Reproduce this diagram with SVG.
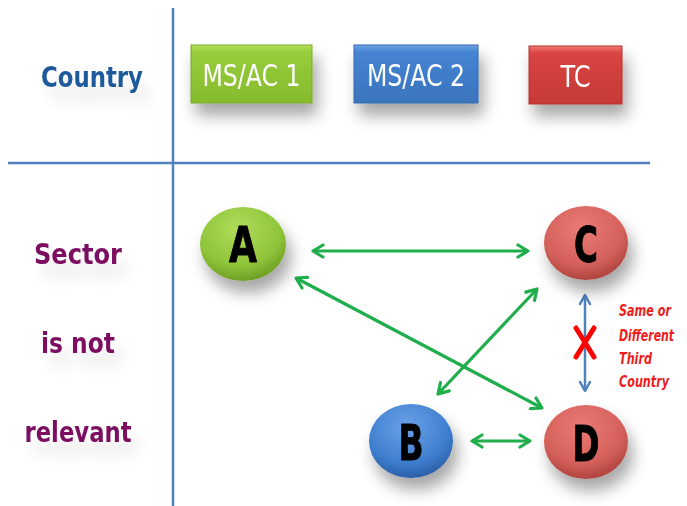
<svg xmlns="http://www.w3.org/2000/svg" width="687" height="506" viewBox="0 0 687 506">
<defs>
<style>
.grid{stroke:#4f81bd;stroke-width:2.5;fill:none}
.box{stroke-width:1}
.btxt{font-family:"DejaVu Sans Condensed","DejaVu Sans",sans-serif;font-size:30px;fill:#ffffff;text-anchor:middle}
.ntxt{font-family:"DejaVu Sans Condensed","DejaVu Sans",sans-serif;font-weight:bold;font-size:49px;fill:#000000;text-anchor:middle;stroke:#000;stroke-width:0.8}
.side{font-family:"DejaVu Sans Condensed","DejaVu Sans",sans-serif;font-weight:bold;font-size:29px;text-anchor:middle}
.note{font-family:"DejaVu Sans Condensed","DejaVu Sans",sans-serif;font-weight:bold;font-style:italic;font-size:16px;fill:#ee1c1c}
.conn{stroke:#1fae4b;stroke-width:3.2;fill:none}
.vconn{stroke:#4f81bd;stroke-width:2.5;fill:none}
</style>
<marker id="ga" viewBox="0 0 16 16" refX="14" refY="8" markerWidth="16" markerHeight="16" markerUnits="userSpaceOnUse" orient="auto-start-reverse">
<path d="M4,2 L14,8 L4,14" fill="none" stroke="#1fae4b" stroke-width="3.2" stroke-linecap="round" stroke-linejoin="round"/>
</marker>
<marker id="ba" viewBox="0 0 14 14" refX="12" refY="7" markerWidth="14" markerHeight="14" markerUnits="userSpaceOnUse" orient="auto-start-reverse">
<path d="M3,2 L12,7 L3,12" fill="none" stroke="#4f81bd" stroke-width="2.5" stroke-linecap="round" stroke-linejoin="round"/>
</marker>
<filter id="sh" x="-40%" y="-40%" width="200%" height="220%">
<feGaussianBlur in="SourceAlpha" stdDeviation="8"/>
<feOffset dx="5" dy="12" result="b"/>
<feComponentTransfer><feFuncA type="linear" slope="0.35"/></feComponentTransfer>
<feMerge><feMergeNode/><feMergeNode in="SourceGraphic"/></feMerge>
</filter>
<filter id="tsh" x="-30%" y="-50%" width="160%" height="250%">
<feGaussianBlur in="SourceAlpha" stdDeviation="8"/>
<feOffset dx="8" dy="14"/>
<feComponentTransfer><feFuncA type="linear" slope="0.12"/></feComponentTransfer>
<feMerge><feMergeNode/><feMergeNode in="SourceGraphic"/></feMerge>
</filter>
<linearGradient id="gGreen" x1="0" y1="0" x2="0" y2="1"><stop offset="0" stop-color="#b3e05a"/><stop offset="0.12" stop-color="#97cc3c"/><stop offset="1" stop-color="#86bb2e"/></linearGradient>
<linearGradient id="gBlue" x1="0" y1="0" x2="0" y2="1"><stop offset="0" stop-color="#6fa3e3"/><stop offset="0.12" stop-color="#4584d2"/><stop offset="1" stop-color="#3a74bd"/></linearGradient>
<linearGradient id="gRed" x1="0" y1="0" x2="0" y2="1"><stop offset="0" stop-color="#f07a74"/><stop offset="0.12" stop-color="#d94440"/><stop offset="1" stop-color="#c73a36"/></linearGradient>
<radialGradient id="rGreen" cx="0.45" cy="0.3" r="0.7"><stop offset="0" stop-color="#b0dc5a"/><stop offset="0.7" stop-color="#8fc43a"/><stop offset="1" stop-color="#6f9e25"/></radialGradient>
<radialGradient id="rBlue" cx="0.45" cy="0.3" r="0.7"><stop offset="0" stop-color="#6aa1e6"/><stop offset="0.7" stop-color="#3f7fd0"/><stop offset="1" stop-color="#2c60a8"/></radialGradient>
<radialGradient id="rRed" cx="0.45" cy="0.3" r="0.7"><stop offset="0" stop-color="#ea7a74"/><stop offset="0.7" stop-color="#d4605a"/><stop offset="1" stop-color="#b04440"/></radialGradient>
</defs>
<rect width="687" height="506" fill="#ffffff"/>
<g id="grid">
<line class="grid" x1="173" y1="8" x2="173" y2="506"/>
<line class="grid" x1="8" y1="163" x2="650" y2="163"/>
</g>
<g id="labels">
<text x="92" y="87" class="side" fill="#1f5a9c" filter="url(#tsh)" textLength="102" lengthAdjust="spacingAndGlyphs">Country</text>
<text x="78" y="264" class="side" fill="#7b1060" filter="url(#tsh)" textLength="88" lengthAdjust="spacingAndGlyphs">Sector</text>
<text x="78" y="353" class="side" fill="#7b1060" filter="url(#tsh)" textLength="74" lengthAdjust="spacingAndGlyphs">is not</text>
<text x="78" y="442" class="side" fill="#7b1060" filter="url(#tsh)" textLength="107" lengthAdjust="spacingAndGlyphs">relevant</text>
</g>
<g id="box-msac1" filter="url(#sh)">
<rect class="box" x="191" y="45" width="121" height="58" fill="url(#gGreen)" stroke="#7aa82c"/>
<text x="251.5" y="86" class="btxt" textLength="98" lengthAdjust="spacingAndGlyphs">MS/AC 1</text>
</g>
<g id="box-msac2" filter="url(#sh)">
<rect class="box" x="354" y="45" width="124" height="58" fill="url(#gBlue)" stroke="#3468ab"/>
<text x="416" y="86" class="btxt" textLength="98" lengthAdjust="spacingAndGlyphs">MS/AC 2</text>
</g>
<g id="box-tc" filter="url(#sh)">
<rect class="box" x="529" y="46" width="93" height="58" fill="url(#gRed)" stroke="#b33330"/>
<text x="575.5" y="87" class="btxt" textLength="30" lengthAdjust="spacingAndGlyphs">TC</text>
</g>
<g id="connectors">
<line class="conn" x1="313" y1="251" x2="528" y2="251" marker-start="url(#ga)" marker-end="url(#ga)"/>
<line class="conn" x1="296" y1="278" x2="542" y2="408" marker-start="url(#ga)" marker-end="url(#ga)"/>
<line class="conn" x1="438" y1="394" x2="537" y2="289" marker-start="url(#ga)" marker-end="url(#ga)"/>
<line class="conn" x1="472" y1="441" x2="530" y2="441" marker-start="url(#ga)" marker-end="url(#ga)"/>
<line class="vconn" x1="585" y1="295" x2="585" y2="391" marker-start="url(#ba)" marker-end="url(#ba)"/>
<path d="M576,328 L594,357 M594,328 L576,357" stroke="#ff0000" stroke-width="5" stroke-linecap="round" fill="none"/>
</g>
<g id="note">
<text class="note" x="619" y="316" textLength="52" lengthAdjust="spacingAndGlyphs">Same or</text>
<text class="note" x="619" y="341" textLength="55" lengthAdjust="spacingAndGlyphs">Different</text>
<text class="note" x="619" y="364" textLength="33" lengthAdjust="spacingAndGlyphs">Third</text>
<text class="note" x="619" y="387" textLength="50" lengthAdjust="spacingAndGlyphs">Country</text>
</g>
<g id="node-a" filter="url(#sh)">
<ellipse cx="243" cy="244" rx="43" ry="37" fill="url(#rGreen)"/>
<text x="243" y="262" class="ntxt" textLength="28" lengthAdjust="spacingAndGlyphs">A</text>
</g>
<g id="node-c" filter="url(#sh)">
<ellipse cx="586" cy="243" rx="42" ry="37" fill="url(#rRed)"/>
<text x="586" y="262" class="ntxt" textLength="24" lengthAdjust="spacingAndGlyphs">C</text>
</g>
<g id="node-b" filter="url(#sh)">
<ellipse cx="411" cy="441" rx="42" ry="37" fill="url(#rBlue)"/>
<text x="411" y="460" class="ntxt" textLength="25" lengthAdjust="spacingAndGlyphs">B</text>
</g>
<g id="node-d" filter="url(#sh)">
<ellipse cx="586" cy="442" rx="42" ry="37" fill="url(#rRed)"/>
<text x="586" y="461" class="ntxt" textLength="27" lengthAdjust="spacingAndGlyphs">D</text>
</g>
</svg>
